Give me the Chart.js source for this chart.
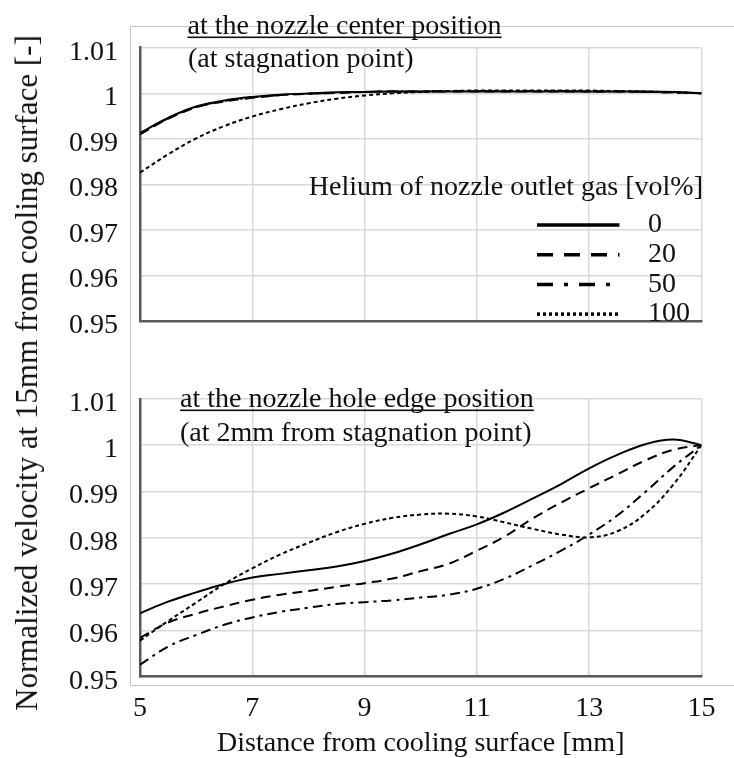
<!DOCTYPE html>
<html>
<head>
<meta charset="utf-8">
<script src="https://cdn.jsdelivr.net/npm/chart.js@4.4.1/dist/chart.umd.min.js"></script>
<style>
  html, body { margin: 0; padding: 0; background: #fff; width: 734px; height: 758px; overflow: hidden; position: relative;
    font-family: "Liberation Serif", "Times New Roman", serif; }
  #frame { position: absolute; left: 130px; top: 26px; width: 640px; height: 660px; border: 1px solid #c6c6c6; box-sizing: border-box; }
  canvas { position: absolute; left: 0; }
  #centerChart { top: 0; width: 734px; height: 360px; }
  #edgeChart { top: 360px; width: 734px; height: 398px; }
  #yTitle { position: absolute; left: 27px; top: 373px; transform: translate(-50%, -50%) rotate(-90deg);
    font-size: 31px; white-space: nowrap; color: #111; }
</style>
</head>
<body>
<div id="frame"></div>
<canvas id="centerChart" width="734" height="360"></canvas>
<canvas id="edgeChart" width="734" height="398"></canvas>
<div id="yTitle">Normalized velocity at 15mm from cooling surface [-]</div>

<script>
// Distance from the cooling surface [mm]
const distance = [5, 5.5, 6, 6.5, 7, 7.5, 8, 8.5, 9, 9.5, 10, 10.5, 11, 11.5, 12, 12.5, 13, 13.5, 14, 14.5, 15];

// Helium fraction of the nozzle outlet gas [vol%]
const heliumLabels = ['0', '20', '50', '100'];

// Nozzle center position (stagnation point)
const centerHe0   = [0.9913, 0.9946, 0.9971, 0.9984, 0.9992, 0.9997, 0.99995, 1.0002, 1.0003, 1.0004, 1.0004, 1.0004, 1.0004, 1.0004, 1.0004, 1.0004, 1.0004, 1.0004, 1.0004, 1.0003, 1.0000];
const centerHe20  = [0.9910, 0.9944, 0.9969, 0.9982, 0.9990, 0.9996, 0.9999, 1.0001, 1.0003, 1.0004, 1.0004, 1.0004, 1.0004, 1.0004, 1.0004, 1.0004, 1.0004, 1.0004, 1.0003, 1.0002, 1.0000];
const centerHe50  = [0.9911, 0.9945, 0.9970, 0.9983, 0.9991, 0.9996, 0.9999, 1.0001, 1.0003, 1.0004, 1.0004, 1.0005, 1.0005, 1.0005, 1.0005, 1.0005, 1.0004, 1.0004, 1.0003, 1.0002, 1.0000];
const centerHe100 = [0.9826, 0.9866, 0.9901, 0.9928, 0.9949, 0.9965, 0.9978, 0.9988, 0.9995, 1.0000, 1.0003, 1.0005, 1.0006, 1.0006, 1.0006, 1.0006, 1.0006, 1.0005, 1.0004, 1.0002, 1.0000];

// Nozzle hole edge position (2 mm from stagnation point)
const edgeHe0   = [0.9637, 0.9662, 0.9682, 0.9700, 0.9714, 0.9722, 0.9730, 0.9738, 0.9750, 0.9766, 0.9786, 0.9808, 0.9829, 0.9855, 0.9885, 0.9916, 0.9950, 0.9979, 1.0002, 1.0012, 1.0000];
const edgeHe20  = [0.9584, 0.9617, 0.9636, 0.9652, 0.9666, 0.9677, 0.9685, 0.9694, 0.9702, 0.9712, 0.9728, 0.9744, 0.9772, 0.9803, 0.9842, 0.9876, 0.9907, 0.9937, 0.9967, 0.9990, 1.0000];
const edgeHe50  = [0.9526, 0.9565, 0.9590, 0.9612, 0.9628, 0.9640, 0.9649, 0.9657, 0.9661, 0.9665, 0.9671, 0.9677, 0.9690, 0.9712, 0.9741, 0.9772, 0.9807, 0.9848, 0.9899, 0.9953, 1.0000];
const edgeHe100 = [0.9578, 0.9620, 0.9660, 0.9700, 0.9734, 0.9764, 0.9789, 0.9812, 0.9830, 0.9843, 0.9850, 0.9852, 0.9846, 0.9833, 0.9819, 0.9807, 0.9801, 0.9814, 0.9852, 0.9915, 1.0000];

const yTickLabels = ['0.95', '0.96', '0.97', '0.98', '0.99', '1', '1.01'];
const xTickLabels = ['5', '7', '9', '11', '13', '15'];

const serif = '"Liberation Serif", "Times New Roman", serif';
const ink = '#111';

// line pattern per helium fraction: in-plot dash and the heavier legend sample
const lineStyles = [
  { dash: [],            key: [] },
  { dash: [10, 6],       key: [16, 11] },
  { dash: [10, 5, 3, 5], key: [16, 11, 4, 11] },
  { dash: [4, 3],        key: [3, 3] }
];

function makeDatasets(series) {
  return series.map((vals, i) => ({
    label: heliumLabels[i],
    data: distance.map((d, j) => ({ x: d, y: vals[j] })),
    borderColor: '#000',
    borderWidth: 2,
    borderDash: lineStyles[i].dash,
    pointRadius: 0,
    tension: 0.4,
    fill: false
  }));
}

function makeScales(withXAxis, xAxisHeight) {
  return {
    x: {
      type: 'linear', min: 5, max: 15,
      ticks: {
        display: withXAxis, stepSize: 2, padding: 15, color: ink, maxRotation: 0, autoSkip: false,
        font: { family: serif, size: 28 },
        callback: v => xTickLabels[Math.round((v - 5) / 2)]
      },
      grid: { color: '#d9d9d9', lineWidth: 1.5, drawTicks: false },
      border: { color: '#595959', width: 2.5 },
      title: {
        display: withXAxis, text: 'Distance from cooling surface [mm]', color: ink,
        font: { family: serif, size: 28, lineHeight: 1 }, padding: { top: 1, bottom: 0 }
      },
      afterFit: s => { s.height = xAxisHeight; }
    },
    y: {
      min: 0.95, max: 1.01,
      ticks: {
        stepSize: 0.01, padding: 22, labelOffset: 4.5, color: ink,
        font: { family: serif, size: 28 },
        callback: v => yTickLabels[Math.round((v - 0.95) * 100)]
      },
      grid: { color: '#d9d9d9', lineWidth: 1.5, drawTicks: false },
      border: { color: '#595959', width: 2.5 },
      afterFit: s => { s.width = 140; }
    }
  };
}

// panel captions, one underlined heading plus a note below it
const captions = {
  id: 'captions',
  afterDraw(chart, args, opts) {
    const ctx = chart.ctx;
    ctx.save();
    ctx.fillStyle = ink;
    ctx.font = '28px ' + serif;
    ctx.textAlign = 'left';
    ctx.textBaseline = 'alphabetic';
    opts.lines.forEach(l => {
      ctx.fillText(l.text, l.x, l.y);
      if (l.underline) {
        const w = ctx.measureText(l.text).width;
        ctx.fillRect(l.x, l.y + 2.5, w, 1.6);
      }
    });
    ctx.restore();
  }
};

// legend listing the helium fractions with their line patterns
const heliumKey = {
  id: 'heliumKey',
  afterDraw(chart, args, opts) {
    if (!opts.show) return;
    const ctx = chart.ctx;
    ctx.save();
    ctx.fillStyle = ink;
    ctx.strokeStyle = '#000';
    ctx.font = '28px ' + serif;
    ctx.textBaseline = 'middle';
    ctx.textAlign = 'right';
    ctx.fillText(opts.title, opts.right, opts.titleY);
    ctx.textAlign = 'left';
    chart.data.datasets.forEach((ds, i) => {
      const y = opts.firstY + i * opts.rowGap;
      ctx.lineWidth = 3.5;
      ctx.setLineDash(lineStyles[i].key);
      ctx.beginPath();
      ctx.moveTo(opts.lineFrom, y);
      ctx.lineTo(opts.lineTo, y);
      ctx.stroke();
      ctx.setLineDash([]);
      ctx.fillText(ds.label, opts.textX, y);
    });
    ctx.restore();
  }
};

Chart.register(captions, heliumKey);

new Chart(document.getElementById('centerChart'), {
  type: 'line',
  data: { datasets: makeDatasets([centerHe0, centerHe20, centerHe50, centerHe100]) },
  options: {
    responsive: false, animation: false,
    layout: { padding: { left: 0, right: 32.5, top: 47.7, bottom: 14.5 } },
    scales: makeScales(false, 0),
    plugins: {
      legend: { display: false }, tooltip: { enabled: false },
      captions: { lines: [
        { text: 'at the nozzle center position', x: 187.5, y: 34, underline: true },
        { text: '(at stagnation point)', x: 188, y: 67 }
      ] },
      heliumKey: {
        show: true, title: 'Helium of nozzle outlet gas [vol%]', right: 703, titleY: 188,
        firstY: 225, rowGap: 29.7, lineFrom: 537, lineTo: 619.5, textX: 648
      }
    }
  }
});

new Chart(document.getElementById('edgeChart'), {
  type: 'line',
  data: { datasets: makeDatasets([edgeHe0, edgeHe20, edgeHe50, edgeHe100]) },
  options: {
    responsive: false, animation: false,
    layout: { padding: { left: 0, right: 32.5, top: 18.3, bottom: 0 } },
    scales: makeScales(true, 81.3),
    plugins: {
      legend: { display: false }, tooltip: { enabled: false },
      captions: { lines: [
        { text: 'at the nozzle hole edge position', x: 180, y: 47, underline: true },
        { text: '(at 2mm from stagnation point)', x: 180, y: 81 }
      ] },
      heliumKey: { show: false }
    }
  }
});
</script>
</body>
</html>
